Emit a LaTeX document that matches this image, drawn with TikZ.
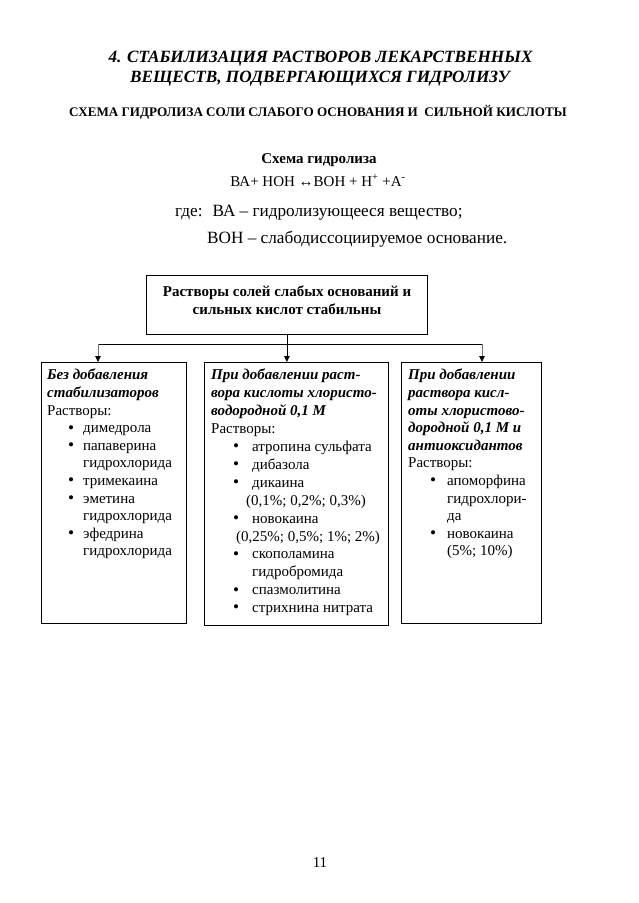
\documentclass[tikz,border=0pt]{standalone}
\usepackage{fontspec}
\setmainfont{Liberation Serif}
\usetikzlibrary{arrows.meta}
\newcommand\bul[3]{\makebox[#2pt][l]{\hspace*{#1pt}\raisebox{-0.3pt}{\scalebox{1.15}{\textbullet}}}#3}
\newcommand\cont[2]{\hspace*{#1pt}#2}
\begin{document}
\begin{tikzpicture}[x=1pt,y=-1pt,
  boxst/.style={draw, line width=0.8pt, anchor=north west, inner sep=0},
  txt/.style={font=\fontsize{15}{17.6}\selectfont, align=left, inner sep=0, anchor=north west},
  lbl/.style={inner sep=0, anchor=base},
  arr/.style={-{Triangle[length=6pt,width=5.5pt,color=black]}, line width=0.8pt},
  ]
\useasboundingbox[fill=white] (0,0) rectangle (638,903);

% headings
\node[lbl, font=\fontsize{17.2}{20}\selectfont\bfseries\itshape] (t1) at (320.5,62.5) {4. СТАБИЛИЗАЦИЯ РАСТВОРОВ ЛЕКАРСТВЕННЫХ};
\node[lbl, font=\fontsize{17.2}{20}\selectfont\bfseries\itshape] (t2) at (320,82.5) {ВЕЩЕСТВ, ПОДВЕРГАЮЩИХСЯ ГИДРОЛИЗУ};
\node[lbl, font=\fontsize{13.1}{15}\selectfont\bfseries] (h1) at (318,116) {СХЕМА ГИДРОЛИЗА СОЛИ СЛАБОГО ОСНОВАНИЯ И \ СИЛЬНОЙ КИСЛОТЫ};
\node[lbl, font=\fontsize{15}{17}\selectfont\bfseries] (h2) at (319,163) {Схема гидролиза};
\node[lbl, font=\fontsize{15}{17}\selectfont] (eq) at (318,186) {ВА+ НОН ↔ВОН + Н\textsuperscript{+} +А\textsuperscript{-}};
\node[lbl, font=\fontsize{17.2}{20}\selectfont, anchor=base west] (w1) at (175,216.5) {где: \ ВА – гидролизующееся вещество;};
\node[lbl, font=\fontsize{17.2}{20}\selectfont, anchor=base west] (w2) at (207,243.5) {ВОН – слабодиссоциируемое основание.};

% top box
\node[boxst, minimum width=281, minimum height=59] (T) at (146,275) {};
\node[font=\fontsize{15}{18}\selectfont\bfseries, align=center, inner sep=0] (Tt) at (287,300.5) {Растворы солей слабых оснований и\\сильных кислот стабильны};

% three boxes
\node[boxst, minimum width=145, minimum height=261] (L) at (41,362) {};
\node[boxst, minimum width=184, minimum height=263] (M) at (204,362) {};
\node[boxst, minimum width=140, minimum height=261] (R) at (401,362) {};

% connectors
\coordinate (hl) at (98,344);
\coordinate (hr) at (482,344);
\draw[line width=0.8pt] (hl) -- (hr);
\draw[arr] (T.south) -- (T.south |- M.north);
\draw[arr, draw=black!55] (hl) -- (hl |- L.north);
\draw[arr, draw=black!55] (hr) -- (hr |- R.north);

% box texts
\node[txt] (Lt) at (47,369) {\textbf{\textit{Без добавления}}\\
\textbf{\textit{стабилизаторов}}\\
Растворы:\\
\bul{21}{36}{димедрола}\\
\bul{21}{36}{папаверина}\\
\cont{36}{гидрохлорида}\\
\bul{21}{36}{тримекаина}\\
\bul{21}{36}{эметина}\\
\cont{36}{гидрохлорида}\\
\bul{21}{36}{эфедрина}\\
\cont{36}{гидрохлорида}};

\node[txt, font=\fontsize{15}{17.9}\selectfont] (Mt) at (211,369) {\textbf{\textit{При добавлении раст-}}\\
\textbf{\textit{вора кислоты хлористо-}}\\
\textbf{\textit{водородной 0,1 М}}\\
Растворы:\\
\bul{22}{41}{атропина сульфата}\\
\bul{22}{41}{дибазола}\\
\bul{22}{41}{дикаина}\\
\cont{35}{(0,1\%; 0,2\%; 0,3\%)}\\
\bul{22}{41}{новокаина}\\
\cont{25}{(0,25\%; 0,5\%; 1\%; 2\%)}\\
\bul{22}{41}{скополамина}\\
\cont{41}{гидробромида}\\
\bul{22}{41}{спазмолитина}\\
\bul{22}{41}{стрихнина нитрата}};

\node[txt] (Rt) at (408,369) {\textbf{\textit{При добавлении}}\\
\textbf{\textit{раствора кисл-}}\\
\textbf{\textit{оты хлористово-}}\\
\textbf{\textit{дородной 0,1 М и}}\\
\textbf{\textit{антиоксидантов}}\\
Растворы:\\
\bul{22}{39}{апоморфина}\\
\cont{39}{гидрохлори-}\\
\cont{39}{да}\\
\bul{22}{39}{новокаина}\\
\cont{39}{(5\%; 10\%)}};

% page number
\node[lbl, font=\fontsize{15}{17}\selectfont] (pg) at (320,867) {11};
\end{tikzpicture}
\end{document}
